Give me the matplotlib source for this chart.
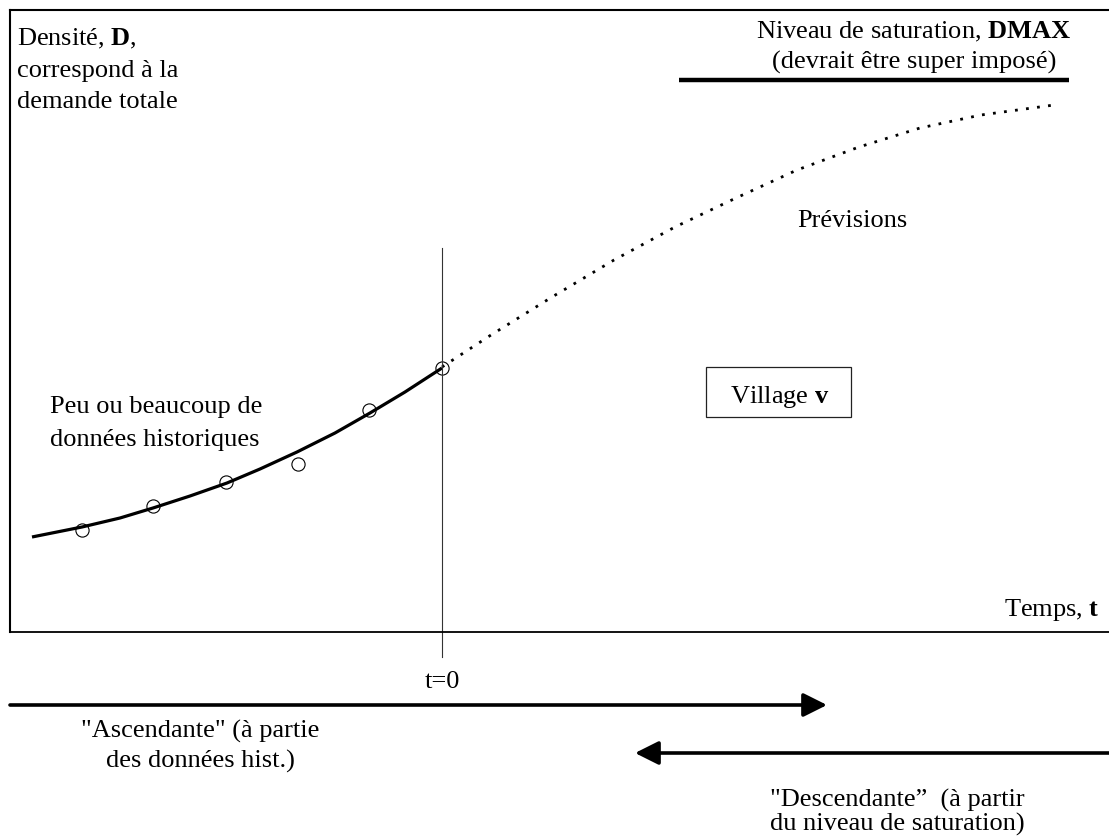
import numpy as np
import matplotlib
matplotlib.use("Agg")
import matplotlib.pyplot as plt
from matplotlib.patches import Rectangle

plt.rcParams['font.family'] = ['Liberation Serif', 'DejaVu Serif']
plt.rcParams['mathtext.fontset'] = 'custom'
plt.rcParams['mathtext.rm'] = 'Liberation Serif'
plt.rcParams['mathtext.bf'] = 'Liberation Serif:bold'

# data (time axis, density axis)
hist_t = [82, 153, 226, 298, 369, 442]
hist_d = [102, 126, 150, 168, 222, 264]

fit_t = [32, 82, 120, 153, 190, 227, 260, 297, 335, 370, 405, 442]
fit_d = [95, 105, 114, 124, 136, 149, 163, 180, 199, 219, 240, 264]

prev_t = [442, 491, 552, 614, 675, 736, 797, 859, 920, 981, 1054]
prev_d = [265, 297, 335, 372, 405, 434, 462, 485, 504, 517, 527]

t0 = 442
dmax = 552
dmax_t = [679, 1069]

fs = 19

fig = plt.figure(figsize=(11.09, 8.38), dpi=100)
ax = fig.add_axes([10 / 1109, 1 - 632 / 838, 1.0, 622 / 838])
ax.set_xlim(10, 1119)
ax.set_ylim(0, 622)
ax.set_xticks([])
ax.set_yticks([])
ax.spines['right'].set_visible(False)
ax.spines['left'].set_linewidth(1.5)
ax.spines['top'].set_linewidth(1.5)
ax.spines['bottom'].set_linewidth(1.3)


def py(y):
    # image row -> density units
    return 632 - y


# curves
ax.plot(fit_t, fit_d, color='black', lw=2.3, solid_capstyle='butt',
        solid_joinstyle='round')
ax.plot(prev_t, prev_d, color='black', lw=2.0, linestyle=(0, (1, 3)))
ax.plot(hist_t, hist_d, 'o', mfc='none', mec='black', ms=9.5, mew=0.8)

# t=0 marker and saturation level
ax.plot([t0, t0], [py(248), py(657)], color='#333333', lw=0.8, clip_on=False)
ax.plot(dmax_t, [dmax, dmax], color='black', lw=3.2, solid_capstyle='butt')

# labels inside the axes
ax.text(17, py(45), r'Densité, $\mathbf{D}$,', fontsize=fs, va='baseline')
ax.text(17, py(77), 'correspond à la', fontsize=fs, va='baseline')
ax.text(17, py(108), 'demande totale', fontsize=fs, va='baseline')

ax.text(914, py(38), r'Niveau de saturation, $\mathbf{DMAX}$', fontsize=fs,
        va='baseline', ha='center')
ax.text(914, py(69), '(devrait être super imposé)', fontsize=fs,
        va='baseline', ha='center')

ax.text(797, py(227), 'Prévisions', fontsize=fs, va='baseline')

ax.add_patch(Rectangle((706, py(417)), 145, 50, fill=False, lw=0.9,
                       edgecolor='#222222'))
ax.text(780, py(403), r'Village $\mathbf{v}$', fontsize=fs, va='baseline',
        ha='center')

ax.text(50, py(413), 'Peu ou beaucoup de', fontsize=fs, va='baseline')
ax.text(50, py(446), 'données historiques', fontsize=fs, va='baseline')

ax.text(1100, py(616), r'Temps, $\mathbf{t}$', fontsize=fs, va='baseline',
        ha='right')

# below the axes
ax.text(t0, py(688), 't=0', fontsize=fs, va='baseline', ha='center',
        clip_on=False)

arrow = dict(arrowstyle='-|>,head_length=0.8,head_width=0.4',
             mutation_scale=18, lw=2.6, color='black', shrinkA=0, shrinkB=0)
ax.annotate('', xy=(827, py(705)), xytext=(10, py(705)), arrowprops=arrow,
            annotation_clip=False)
ax.annotate('', xy=(635, py(753)), xytext=(1119, py(753)), arrowprops=arrow,
            annotation_clip=False)

ax.text(200, py(738), '"Ascendante" (à partie', fontsize=fs, va='baseline',
        ha='center', clip_on=False)
ax.text(200, py(768), 'des données hist.)', fontsize=fs, va='baseline',
        ha='center', clip_on=False)
ax.text(897, py(807), '"Descendante\u201d  (à partir', fontsize=fs,
        va='baseline', ha='center', clip_on=False)
ax.text(897, py(831), 'du niveau de saturation)', fontsize=fs, va='baseline',
        ha='center', clip_on=False)

fig.savefig('out.png', dpi=100)
